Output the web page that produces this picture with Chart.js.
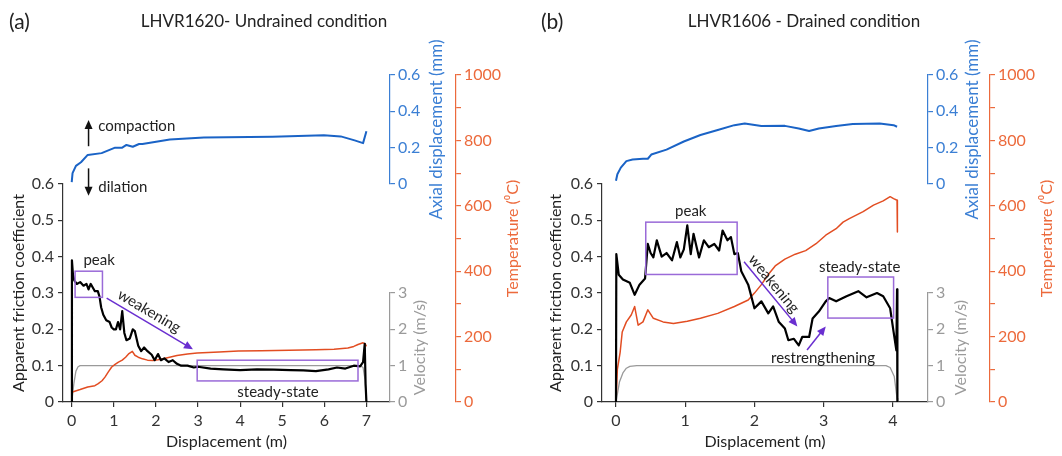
<!DOCTYPE html>
<html>
<head>
<meta charset="utf-8">
<script src="https://cdn.jsdelivr.net/npm/chart.js@4.4.1/dist/chart.umd.min.js"></script>
<style>
  html, body { margin: 0; padding: 0; background: #fff; }
  #wrap { position: relative; width: 1062px; height: 456px; }
  .panel { position: absolute; top: 0; width: 531px; height: 456px; }
</style>
</head>
<body>
<div id="wrap">
  <div class="panel" style="left:0"><canvas id="chartA" width="531" height="456"></canvas></div>
  <div class="panel" style="left:531px"><canvas id="chartB" width="531" height="456"></canvas></div>
</div>
<script>
// ---------- panel (a): LHVR1620, undrained ----------
const dispA_fric = [0, 0.005, 0.03, 0.06, 0.12, 0.2, 0.28, 0.35, 0.4, 0.45, 0.5, 0.55, 0.62, 0.66, 0.7, 0.75, 0.82, 0.9, 0.95, 1.0, 1.05, 1.1, 1.15, 1.2, 1.25, 1.3, 1.38, 1.45, 1.5, 1.58, 1.65, 1.72, 1.8, 1.9, 1.97, 2.05, 2.12, 2.2, 2.3, 2.4, 2.5, 2.6, 2.75, 2.9, 3.0, 3.3, 3.6, 4.0, 4.4, 4.8, 5.2, 5.5, 5.8, 6.1, 6.3, 6.5, 6.7, 6.85, 6.92, 6.96, 6.98, 7.0];
const fricA      = [0, 0.39, 0.35, 0.335, 0.325, 0.33, 0.32, 0.325, 0.31, 0.325, 0.315, 0.305, 0.305, 0.29, 0.26, 0.24, 0.225, 0.22, 0.205, 0.2, 0.2, 0.22, 0.2, 0.25, 0.19, 0.17, 0.175, 0.2, 0.195, 0.155, 0.14, 0.15, 0.14, 0.13, 0.115, 0.132, 0.115, 0.12, 0.11, 0.115, 0.105, 0.1, 0.1, 0.095, 0.097, 0.092, 0.09, 0.088, 0.09, 0.089, 0.088, 0.087, 0.085, 0.09, 0.095, 0.092, 0.1, 0.098, 0.11, 0.16, 0.05, 0];
const dispA_vel  = [0, 0.05, 0.1, 0.15, 0.2, 6.85, 6.92, 6.97, 7.0];
const velA       = [0, 0.5, 0.85, 0.97, 1, 1, 0.95, 0.6, 0];
const dispA_temp = [0, 0.2, 0.38, 0.55, 0.63, 0.72, 0.79, 0.87, 0.95, 1.03, 1.11, 1.2, 1.28, 1.36, 1.44, 1.5, 1.58, 1.68, 1.8, 1.93, 2.05, 2.17, 2.3, 2.5, 2.75, 2.98, 3.5, 3.96, 4.5, 5.17, 5.8, 6.23, 6.56, 6.7, 6.8, 6.92, 6.97, 7.0];
const tempA      = [30, 38, 46, 50, 56, 65, 76, 92, 107, 115, 122, 128, 137, 148, 155, 143, 137, 132, 128, 127, 129, 132, 136, 142, 147, 150, 153, 156, 157, 158, 160, 161, 165, 170, 176, 181, 178, 170];
const dispA_ax   = [0, 0.02, 0.1, 0.22, 0.38, 0.71, 1.03, 1.2, 1.3, 1.45, 1.6, 1.68, 2.33, 3.14, 4.77, 5.99, 6.39, 6.72, 6.92, 7.0];
const axialA     = [0.01, 0.06, 0.1, 0.12, 0.16, 0.17, 0.2, 0.2, 0.215, 0.205, 0.22, 0.22, 0.245, 0.256, 0.26, 0.268, 0.262, 0.24, 0.225, 0.29];

// ---------- panel (b): LHVR1606, drained ----------
const dispB_fric = [0, 0.005, 0.04, 0.1, 0.2, 0.27, 0.34, 0.42, 0.46, 0.5, 0.54, 0.59, 0.66, 0.73, 0.81, 0.88, 0.93, 0.98, 1.03, 1.08, 1.12, 1.2, 1.27, 1.34, 1.42, 1.49, 1.54, 1.61, 1.66, 1.71, 1.76, 1.81, 1.91, 2.0, 2.1, 2.2, 2.27, 2.35, 2.44, 2.49, 2.57, 2.64, 2.69, 2.79, 2.84, 2.93, 3.03, 3.08, 3.18, 3.33, 3.5, 3.62, 3.77, 3.86, 3.96, 4.01, 4.05, 4.06, 4.065];
const fricB      = [0, 0.407, 0.35, 0.337, 0.328, 0.295, 0.323, 0.34, 0.435, 0.41, 0.398, 0.445, 0.4, 0.41, 0.39, 0.44, 0.398, 0.42, 0.486, 0.407, 0.463, 0.398, 0.445, 0.426, 0.435, 0.417, 0.472, 0.445, 0.454, 0.407, 0.41, 0.36, 0.323, 0.258, 0.277, 0.244, 0.263, 0.221, 0.202, 0.17, 0.174, 0.156, 0.179, 0.179, 0.23, 0.249, 0.277, 0.286, 0.277, 0.291, 0.305, 0.288, 0.3, 0.291, 0.258, 0.193, 0.142, 0.31, 0];
const dispB_vel  = [0, 0.05, 0.1, 0.15, 0.2, 0.3, 3.9, 3.96, 4.02, 4.06, 4.07];
const velB       = [0, 0.55, 0.8, 0.93, 0.98, 1, 1, 0.95, 0.7, 0.1, 0];
const dispB_temp = [0, 0.02, 0.06, 0.09, 0.15, 0.22, 0.27, 0.32, 0.39, 0.46, 0.54, 0.68, 0.83, 1.03, 1.22, 1.47, 1.71, 1.91, 2.0, 2.1, 2.2, 2.3, 2.44, 2.59, 2.74, 2.89, 3.03, 3.18, 3.28, 3.37, 3.57, 3.72, 3.86, 3.96, 4.01, 4.06, 4.065];
const tempB      = [0, 100, 152, 214, 245, 266, 292, 235, 245, 282, 256, 245, 240, 247, 256, 271, 292, 312, 333, 359, 390, 416, 437, 452, 463, 484, 510, 530, 550, 561, 582, 602, 615, 628, 622, 617, 520];
const dispB_ax   = [0, 0.02, 0.07, 0.15, 0.24, 0.39, 0.46, 0.51, 0.73, 0.98, 1.22, 1.47, 1.71, 1.86, 2.1, 2.44, 2.64, 2.79, 2.93, 3.18, 3.42, 3.81, 4.01, 4.06];
const axialB     = [0.018, 0.054, 0.09, 0.126, 0.135, 0.139, 0.139, 0.162, 0.189, 0.234, 0.27, 0.297, 0.324, 0.333, 0.319, 0.32, 0.306, 0.292, 0.306, 0.319, 0.33, 0.333, 0.324, 0.315];

// ---------- tick values ----------
const xTicksA = [0, 1, 2, 3, 4, 5, 6, 7];
const xTicksB = [0, 1, 2, 3, 4];
const fricTicks = [0, 0.1, 0.2, 0.3, 0.4, 0.5, 0.6];
const velTicks = [0, 1, 2, 3];
const axialTicks = [0, 0.2, 0.4, 0.6];
const tempTicks = [0, 100, 200, 300, 400, 500, 600, 700, 800, 900, 1000];

// ---------- annotations (x in m, y in friction units) ----------
const boxesA = [[0.08, 0.288, 0.73, 0.36], [2.98, 0.058, 6.8, 0.115]];
const boxesB = [[0.43, 0.351, 1.75, 0.495], [3.06, 0.231, 4.01, 0.344]];
const arrowsA = [[0.83, 0.286, 2.88, 0.145, 'purple'], [0.4, 0.704, 0.4, 0.776, 'black'], [0.4, 0.643, 0.4, 0.568, 'black']];
const arrowsB = [[1.85, 0.386, 2.62, 0.208, 'purple'], [2.76, 0.143, 3.03, 0.208, 'purple']];
// text, x, y, align, rotate along arrow index (-1 = none)
const labelsA = [['peak', 0.65, 0.39, 'center', -1], ['weakening', 1.84, 0.25, 'center', 0], ['steady-state', 4.9, 0.028, 'center', -1], ['compaction', 0.63, 0.76, 'left', -1], ['dilation', 0.63, 0.591, 'left', -1]];
const labelsB = [['peak', 1.08, 0.526, 'center', -1], ['weakening', 2.28, 0.325, 'center', 0], ['restrengthening', 2.99, 0.121, 'center', -1], ['steady-state', 3.52, 0.372, 'center', -1]];

const FONT = 'Lato, "Open Sans", sans-serif';
const C_AXIS = '#333333';
const C_VEL = '#9a9a9a';
const C_AX = '#3b7fd4';
const C_AXLINE = '#1a63c6';
const C_T = '#ec6a3c';
const C_TLINE = '#e24d22';
const C_BOX = '#9a6ad8';
const C_ARROW = '#6a2fd0';

const pts = (xs, ys) => xs.map((x, i) => ({ x: x, y: ys[i] }));
const fixTicks = vals => scale => { scale.ticks = vals.map(v => ({ value: v })); };
const fmt1 = v => (v === 0 ? '0' : v.toFixed(1));

function drawArrow(ctx, x1, y1, x2, y2, color) {
  const a = Math.atan2(y2 - y1, x2 - x1), L = 9, W = 4;
  ctx.strokeStyle = color; ctx.fillStyle = color; ctx.lineWidth = 1.5;
  ctx.beginPath();
  ctx.moveTo(x1, y1);
  ctx.lineTo(x2 - L * 0.8 * Math.cos(a), y2 - L * 0.8 * Math.sin(a));
  ctx.stroke();
  ctx.beginPath();
  ctx.moveTo(x2, y2);
  ctx.lineTo(x2 - L * Math.cos(a) + W * Math.sin(a), y2 - L * Math.sin(a) - W * Math.cos(a));
  ctx.lineTo(x2 - L * Math.cos(a) - W * Math.sin(a), y2 - L * Math.sin(a) + W * Math.cos(a));
  ctx.closePath();
  ctx.fill();
}

function upText(ctx, text, x, y, color) {
  ctx.save();
  ctx.translate(x, y);
  ctx.rotate(-Math.PI / 2);
  ctx.fillStyle = color;
  ctx.textAlign = 'center';
  ctx.textBaseline = 'middle';
  ctx.fillText(text, 0, 0);
  ctx.restore();
}

function decor(spec) {
  return {
    id: 'panelDecor',
    afterDraw(chart) {
      const ctx = chart.ctx, s = chart.scales;
      const px = v => s.x.getPixelForValue(v);
      const py = v => s.yF.getPixelForValue(v);
      ctx.save();
      ctx.textBaseline = 'middle';
      ctx.fillStyle = '#222';
      ctx.font = '21px ' + FONT;
      ctx.textAlign = 'left';
      ctx.fillText(spec.letter, spec.letterX, 22);
      ctx.font = '17px ' + FONT;
      ctx.textAlign = 'center';
      ctx.fillText(spec.title, spec.titleX, 22);

      // right-hand axis titles (read bottom to top)
      ctx.font = '16px ' + FONT;
      upText(ctx, 'Velocity (m/s)', s.yV.left + spec.velOff, (s.yV.top + s.yV.bottom) / 2, C_VEL);
      ctx.font = '17px ' + FONT;
      upText(ctx, 'Axial displacement (mm)', s.yAx.left + spec.axOff, (s.yAx.top + s.yAx.bottom) / 2, C_AX);
      ctx.font = '16px ' + FONT;
      upText(ctx, 'Temperature (\u2070C)', s.yT.left + spec.tOff, (s.yT.top + s.yT.bottom) / 2, C_T);

      // boxes
      ctx.strokeStyle = C_BOX;
      ctx.lineWidth = 1.5;
      spec.boxes.forEach(([x1, y1, x2, y2]) => {
        ctx.strokeRect(px(x1), py(y2), px(x2) - px(x1), py(y1) - py(y2));
      });
      // arrows
      spec.arrows.forEach(([x1, y1, x2, y2, c]) => {
        drawArrow(ctx, px(x1), py(y1), px(x2), py(y2), c === 'purple' ? C_ARROW : '#111');
      });
      // labels
      ctx.font = '15px ' + FONT;
      ctx.fillStyle = '#222';
      spec.labels.forEach(([t, x, y, align, ai]) => {
        ctx.save();
        ctx.translate(px(x), py(y));
        if (ai >= 0) {
          const a = spec.arrows[ai];
          ctx.rotate(Math.atan2(py(a[3]) - py(a[1]), px(a[2]) - px(a[0])));
        }
        ctx.textAlign = align;
        ctx.fillText(t, 0, 0);
        ctx.restore();
      });
      ctx.restore();
    }
  };
}

function makePanel(id, d) {
  const tickFont = { family: FONT, size: 16 };
  const grid = color => ({ display: true, drawOnChartArea: false, drawTicks: true, tickLength: 5, tickColor: color, lineWidth: 1.2 });
  const hidden = (pos, stack, weight, w) => ({
    type: 'linear', position: pos, stack: stack, stackWeight: 1, weight: weight, min: 0, max: 1,
    ticks: { display: false }, grid: { display: false }, border: { display: false },
    afterFit: sc => { sc.width = w; }
  });

  new Chart(document.getElementById(id), {
    type: 'line',
    data: {
      datasets: [
        { label: 'Friction', data: pts(d.xF, d.f), yAxisID: 'yF', borderColor: '#000', borderWidth: 2.2 },
        { label: 'Axial displacement', data: pts(d.xA, d.ax), yAxisID: 'yAx', borderColor: C_AXLINE, borderWidth: 2 },
        { label: 'Temperature', data: pts(d.xT, d.t), yAxisID: 'yT', borderColor: C_TLINE, borderWidth: 1.5 },
        { label: 'Velocity', data: pts(d.xV, d.v), yAxisID: 'yV', borderColor: C_VEL, borderWidth: 1.3 }
      ]
    },
    options: {
      responsive: false,
      animation: false,
      devicePixelRatio: 1,
      elements: { point: { radius: 0 }, line: { tension: 0, borderJoinStyle: 'round' } },
      layout: { padding: { top: 75, left: 0, right: 0, bottom: 0 } },
      plugins: { legend: { display: false }, tooltip: { enabled: false }, title: { display: false } },
      scales: {
        x: {
          type: 'linear', position: 'bottom', min: d.xMin, max: d.xMax,
          afterBuildTicks: fixTicks(d.xTicks),
          ticks: { font: tickFont, color: C_AXIS, padding: 4, maxRotation: 0, autoSkip: false },
          grid: grid(C_AXIS),
          border: { color: C_AXIS, width: 1.2 },
          title: { display: true, text: 'Displacement (m)', font: { family: FONT, size: 16 }, color: '#222', padding: { top: 0, bottom: 5 } },
          afterFit: sc => { sc.height = 54; }
        },
        yTopL: hidden('left', 'L', 2, d.leftW),
        yF: {
          type: 'linear', position: 'left', stack: 'L', stackWeight: 2, weight: 1, min: 0, max: 0.6,
          afterBuildTicks: fixTicks(fricTicks),
          ticks: { font: tickFont, color: C_AXIS, padding: 4, autoSkip: false, callback: fmt1 },
          grid: grid(C_AXIS),
          border: { color: C_AXIS, width: 1.2 },
          title: { display: true, text: 'Apparent friction coefficient', font: { family: FONT, size: 16 }, color: '#222', padding: { top: d.fTitlePad, bottom: 0 } },
          afterFit: sc => { sc.width = d.leftW; }
        },
        yAx: {
          type: 'linear', position: 'right', stack: 'R', stackWeight: 1, weight: 1, min: 0, max: 0.6,
          afterBuildTicks: fixTicks(axialTicks),
          ticks: { font: tickFont, color: C_AX, padding: 3, autoSkip: false, callback: fmt1 },
          grid: grid(C_AX),
          border: { color: C_AX, width: 1.2 },
          afterFit: sc => { sc.width = d.rightW; }
        },
        yGapR: hidden('right', 'R', 2, d.rightW),
        yV: {
          type: 'linear', position: 'right', stack: 'R', stackWeight: 1, weight: 3, min: 0, max: 3,
          afterBuildTicks: fixTicks(velTicks),
          ticks: { font: tickFont, color: C_VEL, padding: 3, autoSkip: false },
          grid: grid(C_VEL),
          border: { color: C_VEL, width: 1.2 },
          afterFit: sc => { sc.width = d.rightW; }
        },
        yT: {
          type: 'linear', position: 'right', weight: 4, min: 0, max: 1000,
          afterBuildTicks: fixTicks(tempTicks),
          ticks: { font: tickFont, color: C_T, padding: 3, autoSkip: false, callback: v => (v % 200 === 0 ? String(v) : '') },
          grid: grid(C_T),
          border: { color: C_T, width: 1.2 },
          afterFit: sc => { sc.width = d.tempW; }
        }
      }
    },
    plugins: [decor(d)]
  });
}

makePanel('chartA', {
  xF: dispA_fric, f: fricA, xV: dispA_vel, v: velA, xT: dispA_temp, t: tempA, xA: dispA_ax, ax: axialA,
  xTicks: xTicksA, xMin: -0.207, xMax: 7.56,
  leftW: 63, rightW: 66, tempW: 75, fTitlePad: 9,
  letter: '(a)', letterX: 9, title: 'LHVR1620- Undrained condition', titleX: 264,
  velOff: 30, axOff: 47, tOff: 57,
  boxes: boxesA, arrows: arrowsA, labels: labelsA
});

makePanel('chartB', {
  xF: dispB_fric, f: fricB, xV: dispB_vel, v: velB, xT: dispB_temp, t: tempB, xA: dispB_ax, ax: axialB,
  xTicks: xTicksB, xMin: -0.202, xMax: 4.507,
  leftW: 71, rightW: 62, tempW: 72, fTitlePad: 15,
  letter: '(b)', letterX: 10, title: 'LHVR1606 - Drained condition', titleX: 273,
  velOff: 33, axOff: 45, tOff: 57,
  boxes: boxesB, arrows: arrowsB, labels: labelsB
});
</script>
</body>
</html>
